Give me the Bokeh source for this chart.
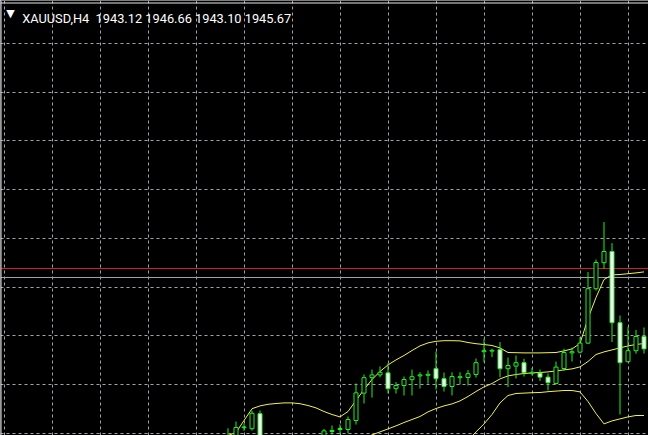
import numpy as np
from bokeh.plotting import figure
from bokeh.models import Span, Label, FixedTicker, Range1d, ColumnDataSource
from bokeh.embed import file_html
from bokeh.resources import INLINE

# ---------------- data ----------------
symbol = "XAUUSD,H4"
last_ohlc = [1943.12, 1946.66, 1943.10, 1945.67]   # O H L C shown in the header

bar_index = list(range(28, 81))

open_ = [1937.22, 1937.52, 1938.16, 1938.11, 1938.86, 1937.27, 1936.92, 1937.07, 1936.77, 1936.97,
         1937.17, 1937.32, 1937.52, 1937.97, 1938.07, 1938.07, 1938.52, 1939.89, 1940.66, 1940.80,
         1940.90, 1940.11, 1940.27, 1940.56, 1940.75, 1940.78, 1941.11, 1940.61, 1940.22, 1940.66,
         1940.67, 1940.82, 1941.96, 1941.99, 1942.06, 1941.11, 1941.24, 1941.41, 1940.88, 1940.89,
         1940.69, 1940.37, 1941.12, 1941.90, 1941.94, 1942.39, 1945.11, 1946.41, 1946.97, 1943.41,
         1941.46, 1942.01, 1942.72]
high = [1938.13, 1938.47, 1938.37, 1939.02, 1939.02, 1937.62, 1937.22, 1937.37, 1937.17, 1937.32,
        1937.47, 1937.57, 1938.10, 1938.27, 1938.32, 1938.72, 1940.37, 1940.82, 1941.07, 1941.22,
        1941.38, 1940.44, 1940.72, 1941.06, 1940.93, 1941.02, 1941.97, 1940.92, 1940.93, 1940.93,
        1941.04, 1941.62, 1942.61, 1942.11, 1942.44, 1941.67, 1941.77, 1941.61, 1941.15, 1941.07,
        1940.87, 1941.47, 1942.11, 1942.17, 1942.69, 1945.94, 1946.57, 1948.44, 1947.39, 1943.77,
        1943.19, 1943.05, 1943.17]
low = [1937.07, 1937.37, 1938.00, 1938.02, 1937.12, 1936.62, 1936.42, 1936.52, 1936.22, 1936.62,
       1936.72, 1936.92, 1937.37, 1937.82, 1937.82, 1937.87, 1938.32, 1939.37, 1939.67, 1940.68,
       1939.87, 1939.87, 1939.77, 1939.77, 1940.12, 1940.36, 1940.07, 1939.97, 1939.77, 1940.32,
       1940.27, 1940.67, 1941.44, 1941.69, 1940.69, 1940.19, 1940.62, 1940.72, 1940.77, 1940.50,
       1940.02, 1940.32, 1941.02, 1941.47, 1941.87, 1942.35, 1945.02, 1946.11, 1942.44, 1938.82,
       1941.44, 1941.86, 1941.87]
close = [1937.67, 1938.17, 1938.20, 1938.88, 1937.27, 1936.92, 1937.07, 1936.77, 1936.97, 1937.17,
         1937.32, 1937.52, 1938.00, 1938.02, 1938.12, 1938.57, 1939.90, 1940.66, 1940.80, 1940.93,
         1940.11, 1940.27, 1940.57, 1940.71, 1940.80, 1940.83, 1940.61, 1940.22, 1940.72, 1940.71,
         1940.86, 1941.41, 1942.01, 1942.03, 1941.11, 1941.27, 1941.41, 1940.92, 1940.93, 1940.69,
         1940.41, 1941.19, 1941.92, 1941.96, 1942.39, 1945.11, 1946.42, 1946.97, 1943.41, 1941.41,
         1942.01, 1942.72, 1942.10]

bb_upper = [1937.77, 1937.92, 1938.52, 1939.11, 1939.25, 1939.33, 1939.37, 1939.40, 1939.40, 1939.36,
            1939.27, 1939.15, 1938.97, 1938.82, 1938.70, 1938.97, 1939.52, 1940.07, 1940.57, 1940.97,
            1941.30, 1941.55, 1941.77, 1942.02, 1942.25, 1942.40, 1942.48, 1942.51, 1942.51, 1942.50,
            1942.42, 1942.36, 1942.32, 1942.27, 1942.15, 1941.92, 1941.91, 1941.90, 1941.90, 1941.90,
            1941.91, 1941.92, 1942.00, 1942.10, 1942.37, 1943.62, 1944.67, 1945.57, 1945.80, 1945.82,
            1945.86, 1945.90, 1945.95]
bb_middle = [None] * 16 + [
    1937.47, 1937.62, 1937.80, 1937.95, 1938.10, 1938.25, 1938.42, 1938.57, 1938.72, 1938.95,
    1939.12, 1939.25, 1939.35, 1939.50, 1939.72, 1939.97, 1940.20, 1940.37, 1940.60, 1940.75,
    1940.82, 1940.87, 1940.90, 1940.92, 1940.95, 1941.00, 1941.05, 1941.10, 1941.20, 1941.47,
    1941.82, 1941.95, 1942.05, 1942.15, 1942.25, 1942.32, 1942.37]
bb_lower = [None] * 29 + [
    1937.07, 1937.52, 1937.95, 1938.35, 1938.82, 1939.40, 1939.77, 1939.87, 1939.89, 1939.91,
    1939.92, 1939.96, 1939.99, 1940.02, 1940.02, 1939.95, 1939.47, 1938.87, 1938.35, 1938.50,
    1938.60, 1938.70, 1938.77, 1938.77]

ask_price = 1946.12
bid_price = 1945.67

grid_bars = [0, 6, 12, 18, 24, 30, 36, 42, 48, 54, 60, 66, 72, 78]
grid_prices = [1957.37, 1954.92, 1952.52, 1950.07, 1947.62, 1945.17, 1942.77, 1940.32, 1937.87]

# ---------------- colours ----------------
BG = "#000000"
GRID = "#a2a2ac"
CANDLE = "#22ee22"
BAND = "#f2f250"
ASK = "#d41c1c"
BID = "#9aa2ac"
FRAME = "#e8e8e8"

# ---------------- figure ----------------
W, H = 648, 435
X_LO, X_HI = -0.4375, 80.5625
Y_LO, Y_HI = 1937.77, 1959.52

p = figure(width=W, height=H, output_backend="svg", toolbar_location=None,
           title=None, x_range=Range1d(X_LO, X_HI), y_range=Range1d(Y_LO, Y_HI),
           x_axis_location=None, y_axis_location=None,
           background_fill_color=BG, border_fill_color=BG, min_border=0,
           outline_line_color=None)

p.xgrid.ticker = FixedTicker(ticks=grid_bars)
p.ygrid.ticker = FixedTicker(ticks=grid_prices)
for g in (p.xgrid, p.ygrid):
    g.grid_line_color = GRID
    g.grid_line_dash = "3 3"
    g.grid_line_width = 1

# window frame (top and left edges)
px_y = (Y_HI - Y_LO) / H
px_x = (X_HI - X_LO) / W
p.add_layout(Span(location=Y_HI - 2.5 * px_y, dimension="width", line_color=FRAME, line_width=1))
p.add_layout(Span(location=X_LO + 0.5 * px_x, dimension="height", line_color=FRAME, line_width=1))

p.add_layout(Span(location=ask_price, dimension="width", line_color=ASK, line_width=1, level="underlay"))
p.add_layout(Span(location=bid_price, dimension="width", line_color=BID, line_width=1, level="underlay"))

x = np.array(bar_index, dtype=float)
for band in (bb_upper, bb_middle, bb_lower):
    yb = np.array([np.nan if v is None else v for v in band], dtype=float)
    p.line(x, yb, line_color=BAND, line_width=1)

o = np.array(open_); c = np.array(close)
src = ColumnDataSource(dict(
    x=x, high=np.array(high), low=np.array(low),
    top=np.maximum(o, c), bottom=np.minimum(o, c),
    fill=["#000000" if cc >= oo else "#ffffff" for oo, cc in zip(open_, close)],
))
p.segment(x0="x", y0="low", x1="x", y1="high", source=src, line_color=CANDLE, line_width=1)
p.vbar(x="x", width=0.5, top="top", bottom="bottom", source=src,
       fill_color="fill", line_color=CANDLE, line_width=1)

header = symbol + "\u00a0\u00a0" + "\u00a0".join(f"{v:.2f}" for v in last_ohlc)
p.add_layout(Label(x=21.7, y=H - 18.3, x_units="screen", y_units="screen", text=header,
                   text_color="#ffffff", text_font="Roboto", text_font_size="12.8px",
                   text_align="left", text_baseline="alphabetic"))
p.add_layout(Label(x=10, y=H - 12.5, x_units="screen", y_units="screen", text="\u25bc",
                   text_color="#ffffff", text_font="DejaVu Sans", text_font_size="11px",
                   text_align="center", text_baseline="middle"))

open("out.html", "w").write(file_html(p, INLINE))
